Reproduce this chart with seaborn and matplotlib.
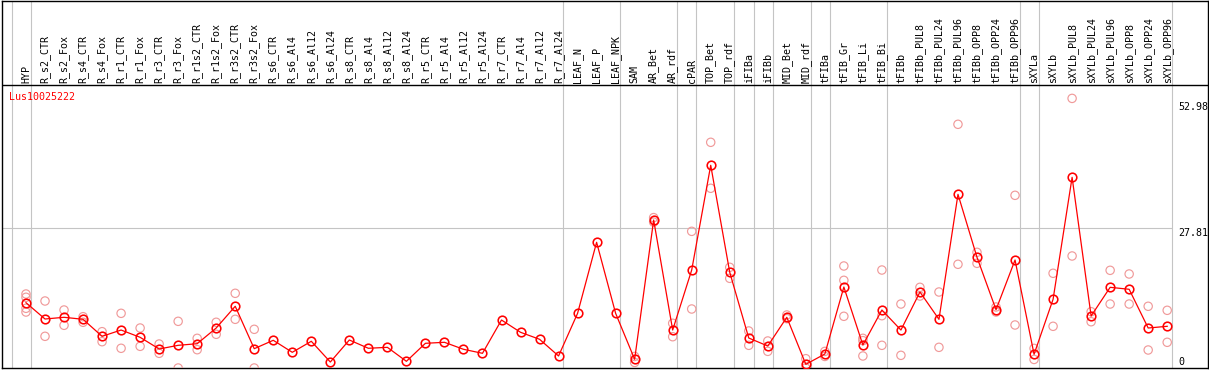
import matplotlib
matplotlib.use('Agg')
import numpy as np
import pandas as pd
import matplotlib.pyplot as plt
import seaborn as sns

# sample columns, left to right
samples = ['HYP', 'R_s2_CTR', 'R_s2_Fox', 'R_s4_CTR', 'R_s4_Fox', 'R_r1_CTR', 'R_r1_Fox',
           'R_r3_CTR', 'R_r3_Fox', 'R_r1s2_CTR', 'R_r1s2_Fox', 'R_r3s2_CTR', 'R_r3s2_Fox',
           'R_s6_CTR', 'R_s6_Al4', 'R_s6_Al12', 'R_s6_Al24', 'R_s8_CTR', 'R_s8_Al4',
           'R_s8_Al12', 'R_s8_Al24', 'R_r5_CTR', 'R_r5_Al4', 'R_r5_Al12', 'R_r5_Al24',
           'R_r7_CTR', 'R_r7_Al4', 'R_r7_Al12', 'R_r7_Al24', 'LEAF_N', 'LEAF_P', 'LEAF_NPK',
           'SAM', 'AR_Bet', 'AR_rdf', 'cPAR', 'TOP_Bet', 'TOP_rdf', 'iFIBa', 'iFIBb',
           'MID_Bet', 'MID_rdf', 'tFIBa', 'tFIB_Gr', 'tFIB_Li', 'tFIB_Bi', 'tFIBb',
           'tFIBb_PUL8', 'tFIBb_PUL24', 'tFIBb_PUL96', 'tFIBb_OPP8', 'tFIBb_OPP24',
           'tFIBb_OPP96', 'sXYLa', 'sXYLb', 'sXYLb_PUL8', 'sXYLb_PUL24', 'sXYLb_PUL96',
           'sXYLb_OPP8', 'sXYLb_OPP24', 'sXYLb_OPP96']

# mean expression (red line)
means = [12.98, 9.74, 10.08, 9.68, 6.30, 7.55, 6.10, 3.78, 4.51, 4.83, 7.95, 12.27,
         3.84, 5.51, 3.12, 5.31, 1.19, 5.57, 3.92, 4.11, 1.33, 4.91, 5.11, 3.72, 2.92,
         9.54, 7.10, 5.71, 2.39, 10.87, 24.99, 10.87, 1.73, 29.42, 7.55, 19.48, 40.30,
         19.02, 5.96, 4.37, 10.08, 0.73, 2.78, 16.10, 4.57, 11.53, 7.55, 15.11, 9.68,
         34.53, 22.01, 11.59, 21.47, 2.72, 13.66, 37.91, 10.34, 16.04, 15.65, 7.95, 8.29]

# replicate values (pink circles)
reps = [[14.71, 14.06, 11.87, 11.13], [13.32, 6.30], [11.53, 8.49], [10.20, 9.09],
        [7.22, 5.23], [10.87, 3.92], [7.95, 4.31], [4.77, 2.92], [9.28, 0.0],
        [5.90, 3.64], [9.09, 6.70], [14.85, 9.68], [7.69, 0.0],
        [], [], [], [], [], [], [], [], [], [], [], [], [], [], [], [],
        [], [], [],
        [2.3, 1.1], [29.9, 29.0], [8.89, 6.22], [27.17, 11.73], [44.87, 35.73],
        [20.02, 17.83], [7.36, 4.51], [5.37, 3.31], [10.54, 9.81], [1.85, 0.0],
        [3.3, 2.3], [20.28, 17.43, 10.28], [5.90, 5.44, 2.39], [19.48, 10.40, 4.51],
        [12.72, 2.52], [16.04, 14.31], [15.11, 4.11], [48.45, 20.62], [23.00, 20.81],
        [12.13, 11.13], [34.33, 8.55], [3.9, 1.7], [18.83, 8.29], [53.6, 22.27],
        [11.19, 9.20], [19.42, 12.72], [18.69, 12.72], [12.27, 3.58], [11.47, 5.11]]

# number of columns in each tissue group (grey separators)
group_sizes = [1, 28, 3, 3, 1, 2, 1, 1, 2, 1, 3, 7, 1, 7]
ytick_vals = [0, 27.81, 52.98]
title = 'Lus10025222'

df_mean = pd.DataFrame({'pos': np.arange(len(samples)), 'expr': means})
df_rep = pd.DataFrame([(i, v) for i, r in enumerate(reps) for v in r], columns=['pos', 'expr'])

plt.rcParams['font.family'] = 'DejaVu Sans Mono'
W, H = 1209, 370
fig = plt.figure(figsize=(W / 100, H / 100), dpi=100)
ax = fig.add_axes([2 / W, 2 / H, 1206 / W, 367.5 / H])

# pixel layout -> data limits
step = 19.02
ax.set_xlim((2 - 26) / step, (1208 - 26) / step)
ppu = 5.03
ax.set_ylim(0, 367.5 / ppu)
label_line = (368 - 85) / ppu

grey = '#c4c4c4'
bounds = np.concatenate([[0], np.cumsum(group_sizes)]) - 0.75
for b in bounds:
    ax.axvline(b, color=grey, lw=0.8, zorder=1)
ax.hlines(ytick_vals[1], ax.get_xlim()[0], bounds[-1], color=grey, lw=0.8, zorder=1)
ax.axhline(label_line, color='black', lw=1.0, zorder=2)

sns.scatterplot(data=df_rep, x='pos', y='expr', ax=ax, s=36, marker='o',
                facecolor='none', edgecolor='#f09a9a', linewidth=0.85, zorder=3, legend=False)
sns.lineplot(data=df_mean, x='pos', y='expr', ax=ax, color='#ff0000', lw=0.9,
             marker='o', ms=6.2, mfc='none', mec='#ff0000', mew=1.15, zorder=4,
             sort=False, estimator=None)

# column labels
for i, s in enumerate(samples):
    ax.text(i, (368 - 83) / ppu, s, rotation=90, ha='center', va='bottom', fontsize=7.2)

ax.text((9 - 26) / step, (368 - 97) / ppu, title, color='#ff0000', ha='left', va='center', fontsize=7.2)

# value labels on the right
xr = (1178 - 26) / step
for v in ytick_vals:
    if v == 0:
        ax.text(xr, v + 1.0 / ppu, '0', ha='left', va='bottom', fontsize=7.2)
    else:
        ax.text(xr, v, f'{v:.2f}', ha='left', va='top', fontsize=7.2)

ax.set_xticks([])
ax.set_yticks([])
ax.set_xlabel('')
ax.set_ylabel('')
for sp in ax.spines.values():
    sp.set_color('black')
    sp.set_linewidth(1.0)

fig.savefig('out.png', dpi=100)
